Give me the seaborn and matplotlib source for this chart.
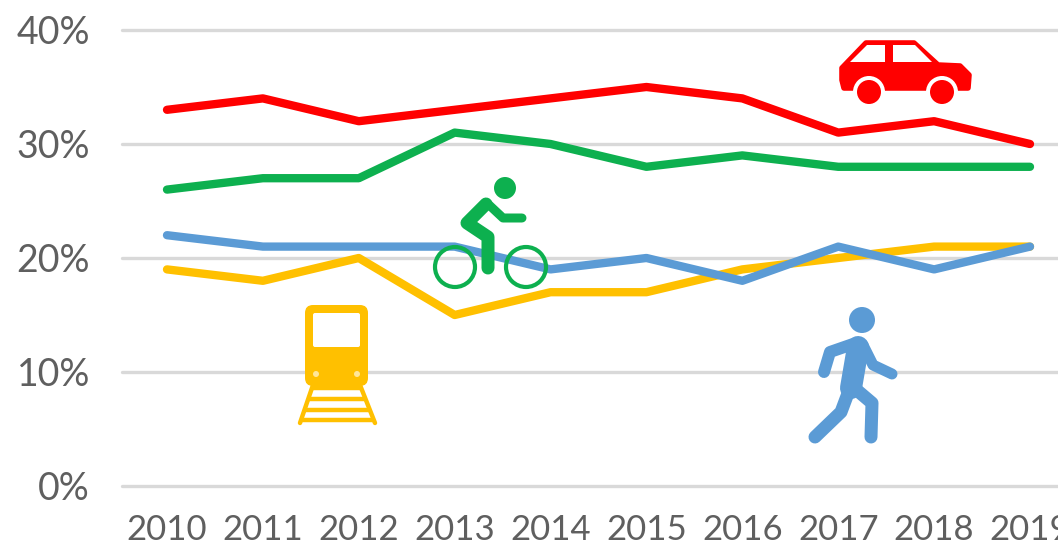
import matplotlib
matplotlib.use("Agg")
import matplotlib.pyplot as plt
from matplotlib.patches import Circle, Polygon, FancyBboxPatch
import pandas as pd
import seaborn as sns

years = [2010, 2011, 2012, 2013, 2014, 2015, 2016, 2017, 2018, 2019]
car = [33, 34, 32, 33, 34, 35, 34, 31, 32, 30]
bike = [26, 27, 27, 31, 30, 28, 29, 28, 28, 28]
train = [19, 18, 20, 15, 17, 17, 19, 20, 21, 21]
walk = [22, 21, 21, 21, 19, 20, 18, 21, 19, 21]
y_ticks = [0, 10, 20, 30, 40]

RED, GREEN, YELLOW, BLUE = "#FF0000", "#0DB04F", "#FFC000", "#5B9BD5"
GRID, TEXT = "#D9D9D9", "#5F5F5F"
W, H = 1058, 545

sns.set_theme(style="white")
plt.rcParams["font.family"] = ["Lato", "DejaVu Sans"]

df = pd.DataFrame({"year": years * 4,
                   "share": car + bike + train + walk,
                   "mode": ["car"] * 10 + ["bike"] * 10 + ["train"] * 10 + ["walk"] * 10})

fig = plt.figure(figsize=(W / 100, H / 100), dpi=100)
left, right, top, bottom = 122, 1058, 30, 486
ax = fig.add_axes([left / W, 1 - bottom / H, (right - left) / W, (bottom - top) / H])
sns.lineplot(data=df, x="year", y="share", hue="mode",
             hue_order=["car", "bike", "train", "walk"],
             palette=[RED, GREEN, YELLOW, BLUE], linewidth=6, legend=False, ax=ax,
             solid_joinstyle="round", zorder=3)
px_per_year = (1030 - 167) / 9
ax.set_xlim(2010 - (167 - left) / px_per_year, 2019 + (right - 1030) / px_per_year)
ax.set_ylim(0, 40)
ax.set_xticks(years)
ax.set_yticks(y_ticks)
ax.set_yticklabels([f"{v}%" for v in y_ticks])
ax.set_xlabel("")
ax.set_ylabel("")
ax.grid(axis="y", color=GRID, linewidth=2.4)
ax.grid(axis="x", visible=False)
ax.set_axisbelow(True)
sns.despine(ax=ax, left=True, bottom=True, top=True, right=True)
ax.tick_params(axis="x", length=0, labelsize=25, labelcolor=TEXT, pad=20)
ax.tick_params(axis="y", length=0, labelsize=27, labelcolor=TEXT, pad=23)
for lab in ax.get_xticklabels() + ax.get_yticklabels():
    lab.set_clip_on(False)
for line in ax.get_ygridlines():
    line.set_clip_on(False)

# pictograms drawn in an overlay that uses picture pixels
ov = fig.add_axes([0, 0, 1, 1], facecolor="none")
ov.set_xlim(0, W)
ov.set_ylim(H, 0)
ov.axis("off")

def stroke(xs, ys, color, width):
    ov.plot(xs, ys, color=color, lw=width * 0.72, solid_capstyle="round",
            solid_joinstyle="round")

# car
ov.add_patch(Polygon([(842, 68), (866, 43), (914, 43), (938, 65), (960, 66), (969, 75),
                      (968, 88), (844, 88), (842, 80)], closed=True, fc=RED, ec=RED, lw=4, joinstyle="round"))
for pts in ([(850, 62), (867, 45), (885, 45), (885, 62)], [(893, 45), (915, 45), (932, 62), (893, 62)]):
    ov.add_patch(Polygon(pts, closed=True, fc="white", ec="none"))
for cx in (869, 942):
    ov.add_patch(Circle((cx, 92), 16, fc="white", ec="none", zorder=4))
    ov.add_patch(Circle((cx, 92), 12, fc=RED, ec="none", zorder=5))

# bicycle and rider
ov.add_patch(Circle((505, 188), 11, fc=GREEN, ec="none"))
for cx in (455, 526):
    ov.add_patch(Circle((cx, 267), 20, fc="none", ec=GREEN, lw=3))
stroke([486, 467, 488, 488], [204, 223, 237, 268], GREEN, 13)
stroke([487, 503, 522], [203, 218, 218], GREEN, 9)

# train
ov.add_patch(FancyBboxPatch((305, 305), 63, 81, boxstyle="round,pad=0,rounding_size=8", fc=YELLOW, ec="none"))
ov.add_patch(FancyBboxPatch((313, 313), 47, 34, boxstyle="round,pad=0,rounding_size=2", fc="white", ec="none"))
for cx in (316, 357):
    ov.add_patch(Circle((cx, 374), 3, fc="#FFE699", ec="none"))
ov.plot([313, 300], [385, 423], color=YELLOW, lw=3.2, solid_capstyle="round")
ov.plot([360, 375], [385, 423], color=YELLOW, lw=3.2, solid_capstyle="round")
for y, x0, x1 in ((388, 312, 361), (399, 308, 365), (410, 304, 369), (420, 301, 373)):
    ov.plot([x0, x1], [y, y], color=YELLOW, lw=3.2, solid_capstyle="butt")

# walker
ov.add_patch(Circle((862, 320), 13, fc=BLUE, ec="none"))
stroke([853, 830, 824], [344, 352, 372], BLUE, 12)
stroke([863, 873, 892], [345, 365, 374], BLUE, 11)
stroke([858, 851], [347, 388], BLUE, 22)
stroke([850, 841, 815], [388, 412, 437], BLUE, 13)
stroke([852, 872, 871], [386, 403, 437], BLUE, 13)

fig.savefig("out.png", dpi=100, facecolor="white")
